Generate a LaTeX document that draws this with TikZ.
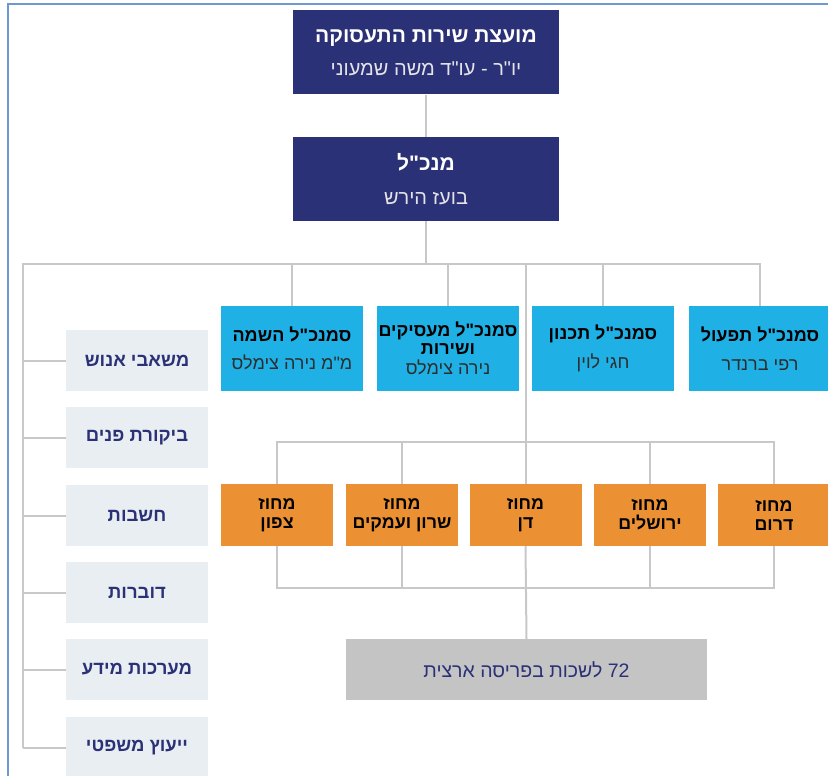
\documentclass[tikz,border=0pt]{standalone}
\usepackage{fontspec}
\newfontfamily\heb[Script=Hebrew]{Liberation Sans}
\TeXXeTstate=1
\newcommand{\hl}[1]{\beginR #1\endR}
\definecolor{navy}{RGB}{43,49,118}
\definecolor{cyanbox}{RGB}{31,176,229}
\definecolor{orangebox}{RGB}{236,145,51}
\definecolor{leftfill}{RGB}{233,238,242}
\definecolor{greybox}{RGB}{196,196,196}
\definecolor{linegrey}{RGB}{200,200,200}
\definecolor{frameblue}{RGB}{108,152,212}
\definecolor{namegrey}{RGB}{45,45,45}
\definecolor{subwhite}{RGB}{228,228,232}
\tikzset{
  conn/.style={draw=linegrey, line width=2pt},
  topbox/.style={rectangle, inner sep=0pt, fill=navy, text=white, align=center,
    minimum width=266pt, minimum height=84pt, font=\heb\fontsize{20}{33}\selectfont},
  cyanbx/.style={rectangle, inner sep=0pt, fill=cyanbox, text=black, align=center,
    minimum width=142pt, minimum height=85pt, font=\heb\fontsize{18}{28.5}\selectfont},
  orangebx/.style={rectangle, inner sep=0pt, fill=orangebox, text=black, align=center,
    minimum width=112pt, minimum height=62pt, font=\heb\bfseries\fontsize{17.8}{19}\selectfont},
  leftbx/.style={rectangle, inner sep=0pt, fill=leftfill, text=navy, align=center,
    minimum width=142pt, minimum height=61pt, font=\heb\bfseries\fontsize{18.5}{19}\selectfont},
  greybx/.style={rectangle, inner sep=0pt, fill=greybox, text=navy, align=center,
    minimum width=361pt, minimum height=61pt, font=\heb\fontsize{19.5}{20}\selectfont},
}
\begin{document}
\begin{tikzpicture}[x=1pt,y=-1pt]
\useasboundingbox (0,0) rectangle (828,776);
\fill[white] (0,0) rectangle (828,776);
\clip (0,0) rectangle (828,776);
% frame
\draw[frameblue, line width=2pt] (8,790) -- (8,4) -- (840,4);

% top boxes
\node[topbox] (council) at (426,52.5) {\bfseries\fontsize{21}{33}\selectfont\hl{מועצת שירות התעסוקה}\\\mdseries\color{subwhite}\hl{יו"ר - עו"ד משה שמעוני}};
\node[topbox, font=\heb\fontsize{20}{34.5}\selectfont] (gm) at (426,179) {\bfseries\fontsize{21}{34.5}\selectfont\hl{מנכ"ל}\\\mdseries\color{subwhite}\hl{בועז הירש}};

% deputy directors
\node[cyanbx] (dep1) at (292,348.5) {\bfseries\hl{סמנכ"ל השמה}\\\mdseries\color{namegrey}\hl{מ"מ נירה צימלס}};
\node[cyanbx, font=\heb\fontsize{18}{17.5}\selectfont] (dep2) at (448,348.5) {\bfseries\hl{סמנכ"ל מעסיקים}\\\bfseries\hl{ושירות}\\[3pt]\mdseries\color{namegrey}\hl{נירה צימלס}};
\node[cyanbx] (dep3) at (603,348.5) {\bfseries\hl{סמנכ"ל תכנון}\\\mdseries\color{namegrey}\hl{חגי לוין}};
\node[cyanbx] (dep4) at (760,348.5) {\bfseries\hl{סמנכ"ל תפעול}\\\mdseries\color{namegrey}\hl{רפי ברנדר}};

% districts
\node[orangebx] (dist1) at (277,515) {\hl{מחוז}\\\hl{צפון}};
\node[orangebx] (dist2) at (402,515) {\hl{מחוז}\\\hl{שרון ועמקים}};
\node[orangebx] (dist3) at (525.5,515) {\hl{מחוז}\\\hl{דן}};
\node[orangebx] (dist4) at (650,515) {\hl{מחוז}\\\hl{ירושלים}};
\node[orangebx] (dist5) at (774,515) {\hl{מחוז}\\\hl{דרום}};

% offices
\node[greybx] (offices) at (526.5,669.5) {\hl{\beginL 72\endL{} לשכות בפריסה ארצית}};

% staff units
\node[leftbx] (st1) at (137,360.5) {\hl{משאבי אנוש}};
\node[leftbx] (st2) at (137,437.5) {\hl{ביקורת פנים}};
\node[leftbx] (st3) at (137,515.5) {\hl{חשבות}};
\node[leftbx] (st4) at (137,592.5) {\hl{דוברות}};
\node[leftbx] (st5) at (137,669.5) {\hl{מערכות מידע}};
\node[leftbx] (st6) at (137,747.5) {\hl{ייעוץ משפטי}};

% connectors
\coordinate (busA) at (23,264);
\coordinate (busB) at (0,441.5);
\coordinate (busC) at (0,588);
\coordinate (spine) at (525.5,264);
\draw[conn] (council.south) -- (gm.north);
\draw[conn] (gm.south) -- (gm.south |- busA);
\draw[conn] (st6.west -| busA) -- (busA) -- (dep4.north |- busA) -- (dep4.north);
\foreach \n in {dep1,dep2,dep3} \draw[conn] (\n.north) -- (\n.north |- busA);
\foreach \n in {st1,st2,st3,st4,st5,st6} \draw[conn] (\n.west) -- (\n.west -| busA);
\draw[conn] (spine) -- (dist3.north);
\draw[conn] (dist1.north) -- (dist1.north |- busB) -- (dist5.north |- busB) -- (dist5.north);
\foreach \n in {dist2,dist4} \draw[conn] (\n.north) -- (\n.north |- busB);
\draw[conn] (dist1.south) -- (dist1.south |- busC) -- (dist5.south |- busC) -- (dist5.south);
\foreach \n in {dist2,dist4} \draw[conn] (\n.south) -- (\n.south |- busC);
\draw[conn] (dist3.south) -- (offices.north);
\end{tikzpicture}
\end{document}
